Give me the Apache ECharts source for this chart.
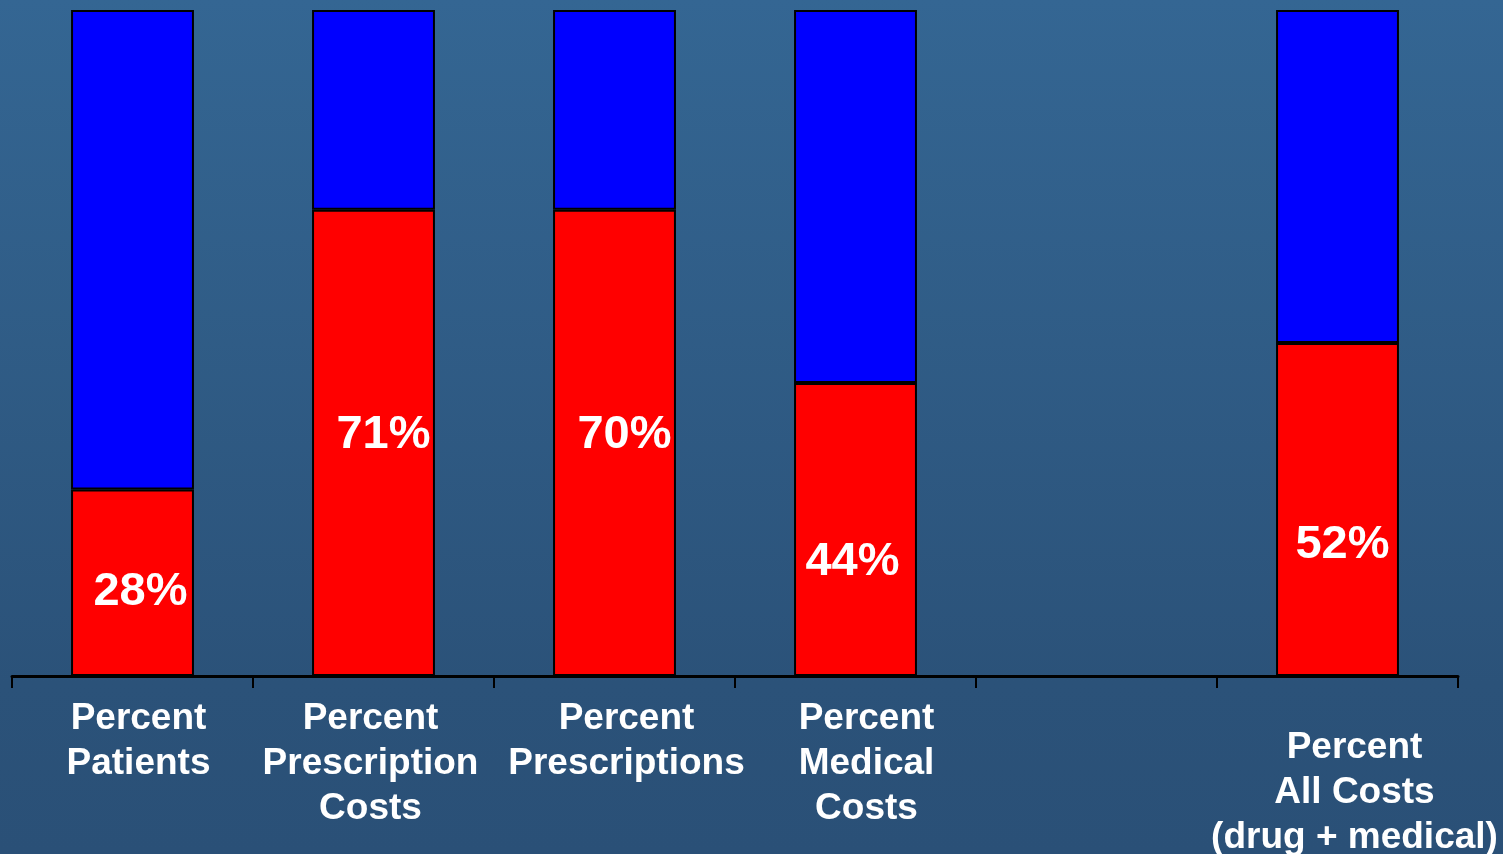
<!DOCTYPE html>
<html>
<head>
<meta charset="utf-8">
<script src="https://cdn.jsdelivr.net/npm/echarts@6/dist/echarts.min.js"></script>
<style>
html,body{margin:0;padding:0;}
#chart{width:1503px;height:854px;background:linear-gradient(to bottom,#346693 0%,#2b5279 80%,#2a5077 100%);}
</style>
</head>
<body>
<div id="chart"></div>
<script>
var categories = ['Percent\nPatients', 'Percent\nPrescription\nCosts', 'Percent\nPrescriptions', 'Percent\nMedical\nCosts', '', 'Percent\nAll Costs\n(drug + medical)'];
var redValues = [28, 70, 70, 44, null, 50];
var blueValues = [72, 30, 30, 56, null, 50];
var valueLabels = ['28%', '71%', '70%', '44%', '', '52%'];

var labelOffsets = [[8, 9], [10, -8], [10, -8], [-3, 33], [0, 0], [5, 36]];
var catPadding = [[0, 0, 0, 12], [0, 6, 0, 0], [0, 0, 0, 24], [0, 0, 0, 22], [0, 0, 0, 0], [29, 0, 0, 34]];

var chart = echarts.init(document.getElementById('chart'));
var catData = categories.map(function (c, i) {
  return { value: c, textStyle: { padding: catPadding[i] } };
});
var redData = redValues.map(function (v, i) {
  return { value: v, label: { offset: labelOffsets[i] } };
});
chart.setOption({
  animation: false,
  grid: { left: 12, right: 45, top: 10, bottom: 178, containLabel: false, outerBoundsMode: 'none' },
  xAxis: {
    type: 'category',
    data: catData,
    axisLine: { lineStyle: { color: '#000', width: 3 } },
    axisTick: { show: true, length: 12, lineStyle: { color: '#000', width: 2 } },
    axisLabel: {
      interval: 0,
      color: '#fff',
      fontFamily: 'Liberation Sans, Arial, sans-serif',
      fontWeight: 'bold',
      fontSize: 37,
      lineHeight: 45,
      margin: 20,
      hideOverlap: false
    }
  },
  yAxis: { type: 'value', min: 0, max: 100, show: false, splitLine: { show: false } },
  series: [
    {
      type: 'bar', stack: 'a', barWidth: '51%',
      data: redData,
      itemStyle: { color: '#ff0000', borderColor: '#000', borderWidth: 2 },
      label: {
        show: true, position: 'inside',
        color: '#fff', fontFamily: 'Liberation Sans, Arial, sans-serif',
        fontWeight: 'bold', fontSize: 47,
        formatter: function (p) { return valueLabels[p.dataIndex]; }
      }
    },
    {
      type: 'bar', stack: 'a', barWidth: '51%',
      data: blueValues,
      itemStyle: { color: '#0000ff', borderColor: '#000', borderWidth: 2 }
    }
  ]
});
</script>
</body>
</html>
